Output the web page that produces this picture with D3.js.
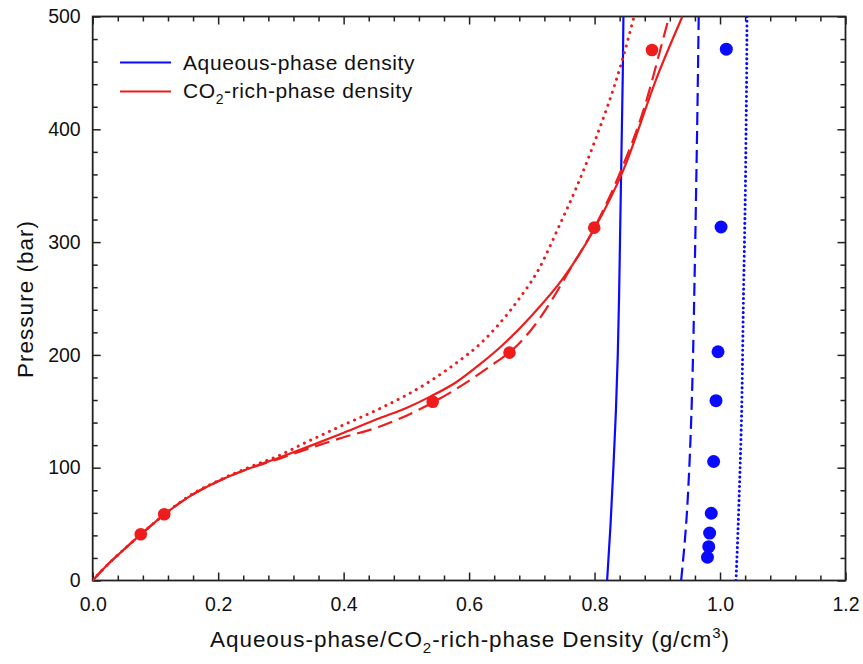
<!DOCTYPE html>
<html lang="en">
  <head>
    <meta charset="UTF-8" />
    <title>Aqueous-phase / CO2-rich-phase density vs pressure</title>
    <script src="https://d3js.org/d3.v7.min.js"></script>
    <style>
      body {
        margin: 0;
        background: #ffffff;
        font-family: 'Liberation Sans', Arial, sans-serif;
      }
      .axis text {
        font-family: 'Liberation Sans', Arial, sans-serif;
        font-size: 19.5px;
        fill: #111;
      }
      .axis line {
        stroke: #222;
        stroke-width: 1.5px;
      }
      .axis path {
        display: none;
      }
    </style>
  </head>
  <body>
    <div id="chart"></div>

    <script>
      // ---- data (density g/cm3, pressure bar) ----
      const xTicks = [0, 0.2, 0.4, 0.6, 0.8, 1.0, 1.2];
      const yTicks = [0, 100, 200, 300, 400, 500];

      // CO2-rich phase, model curves
      const co2Solid = [
        [0, 0], [0.02, 12], [0.04, 22.5], [0.077, 41], [0.114, 58.5],
        [0.15, 73], [0.2, 88], [0.25, 99.5], [0.3, 109.5], [0.35, 120],
        [0.4, 131], [0.458, 144], [0.5, 153], [0.538, 163], [0.58, 176],
        [0.618, 192], [0.65, 207], [0.7, 235], [0.75, 268], [0.8, 312],
        [0.846, 364], [0.9, 447], [0.94, 500],
      ];
      const co2Dashed = [
        [0, 0], [0.02, 12], [0.04, 22.5], [0.077, 41], [0.114, 58.5],
        [0.15, 73], [0.2, 88], [0.25, 99.3], [0.3, 108.5], [0.331, 114.5],
        [0.4, 127], [0.458, 136.5], [0.522, 152], [0.58, 170], [0.644, 194],
        [0.664, 202], [0.7, 223], [0.73, 247], [0.761, 276], [0.8, 313],
        [0.841, 362], [0.878, 417], [0.918, 498], [0.919, 500],
      ];
      const co2Dotted = [
        [0, 0], [0.02, 12], [0.04, 22.5], [0.077, 41], [0.114, 58.5],
        [0.15, 73.5], [0.2, 88.5], [0.25, 100.5], [0.3, 111.5], [0.331, 120],
        [0.4, 138], [0.46, 153], [0.533, 175], [0.58, 193], [0.618, 210],
        [0.644, 225], [0.68, 250], [0.708, 273], [0.745, 316], [0.77, 347],
        [0.798, 386], [0.844, 461], [0.863, 500],
      ];

      // aqueous phase, model curves
      const aqSolid = [
        [0.82, 0], [0.8255, 50], [0.83, 100], [0.834, 150], [0.837, 200],
        [0.839, 250], [0.8405, 300], [0.842, 350], [0.8435, 400],
        [0.845, 450], [0.846, 500],
      ];
      const aqDashed = [
        [0.938, 0], [0.946, 50], [0.951, 100], [0.9545, 150], [0.957, 200],
        [0.9588, 250], [0.9605, 300], [0.962, 350], [0.9635, 400],
        [0.9648, 450], [0.966, 500],
      ];
      const aqDotted = [
        [1.0255, 0], [1.029, 50], [1.032, 100], [1.0345, 150], [1.036, 200],
        [1.0373, 250], [1.039, 300], [1.0405, 350], [1.0415, 400],
        [1.0425, 450], [1.043, 500],
      ];

      // measured points
      const co2Points = [
        [0.0766, 41], [0.114, 58.7], [0.542, 158.5], [0.6644, 202],
        [0.7995, 312.8], [0.8915, 470.3],
      ];
      const aqPoints = [
        [0.98, 20.6], [0.982, 30], [0.9834, 42], [0.986, 59.6],
        [0.9898, 105.5], [0.9936, 159.4], [0.9968, 202.8],
        [1.0016, 313.4], [1.01, 471],
      ];

      const blue = '#0a0aff';
      const red = '#ee1c1c';

      const W = 863,
        H = 664;
      const svg = d3
        .select('#chart')
        .append('svg')
        .attr('width', W)
        .attr('height', H);

      const x = d3.scaleLinear().domain([0, 1.2]).range([92.7, 845.5]);
      const y = d3.scaleLinear().domain([0, 500]).range([580.5, 16.5]);

      svg
        .append('clipPath')
        .attr('id', 'plot')
        .append('rect')
        .attr('x', x(0))
        .attr('y', y(500))
        .attr('width', x(1.2) - x(0))
        .attr('height', y(0) - y(500));

      // minor ticks
      const xMinor = d3.range(0, 1.2001, 0.04).filter(
        (v) => Math.abs(v * 5 - Math.round(v * 5)) > 1e-6,
      );
      const yMinor = d3.range(0, 500.1, 20).filter((v) => v % 100 !== 0);

      function addAxis(axisFn, scale, vals, size, tr, labels) {
        const a = axisFn(scale)
          .tickValues(vals)
          .tickSizeInner(-size)
          .tickSizeOuter(0);
        if (!labels) a.tickFormat('');
        return svg
          .append('g')
          .attr('class', 'axis')
          .attr('transform', tr)
          .call(a);
      }

      const bottomT = `translate(0,${y(0)})`;
      const topT = `translate(0,${y(500)})`;
      const leftT = `translate(${x(0)},0)`;
      const rightT = `translate(${x(1.2)},0)`;

      // labelled major ticks
      addAxis(d3.axisBottom, x, xTicks, 8, bottomT, true)
        .selectAll('text')
        .text((d) => d3.format('.1f')(d))
        .attr('y', 16.7);
      addAxis(d3.axisLeft, y, yTicks, 8, leftT, true)
        .selectAll('text')
        .attr('x', -12);

      // unlabelled ticks (minor + mirrored)
      addAxis(d3.axisBottom, x, xMinor, 5, bottomT, false);
      addAxis(d3.axisTop, x, xTicks, 8, topT, false);
      addAxis(d3.axisTop, x, xMinor, 5, topT, false);
      addAxis(d3.axisLeft, y, yMinor, 5, leftT, false);
      addAxis(d3.axisRight, y, yTicks, 8, rightT, false);
      addAxis(d3.axisRight, y, yMinor, 5, rightT, false);

      // frame
      svg
        .append('rect')
        .attr('x', x(0))
        .attr('y', y(500))
        .attr('width', x(1.2) - x(0))
        .attr('height', y(0) - y(500))
        .attr('fill', 'none')
        .attr('stroke', '#222')
        .attr('stroke-width', 1.8);

      const plot = svg.append('g').attr('clip-path', 'url(#plot)');

      const lineX = d3
        .line()
        .x((d) => x(d[0]))
        .y((d) => y(d[1]))
        .curve(d3.curveMonotoneX);
      const lineY = d3
        .line()
        .x((d) => x(d[0]))
        .y((d) => y(d[1]))
        .curve(d3.curveMonotoneY);

      const curves = [
        { data: aqSolid, gen: lineY, color: blue, dash: null },
        { data: aqDashed, gen: lineY, color: blue, dash: '13,6' },
        { data: aqDotted, gen: lineY, color: blue, dash: '0.1,4.6' },
        { data: co2Solid, gen: lineX, color: red, dash: null },
        { data: co2Dashed, gen: lineX, color: red, dash: '15,7' },
        { data: co2Dotted, gen: lineX, color: red, dash: '0.1,6.8' },
      ];

      curves.forEach((c) => {
        const dotted = c.dash && c.dash.startsWith('0.1');
        plot
          .append('path')
          .attr('d', c.gen(c.data))
          .attr('fill', 'none')
          .attr('stroke', c.color)
          .attr('stroke-width', dotted ? 3 : 2.2)
          .attr('stroke-linecap', dotted ? 'round' : 'butt')
          .attr('stroke-dasharray', c.dash);
      });

      plot
        .selectAll('circle.co2')
        .data(co2Points)
        .join('circle')
        .attr('class', 'co2')
        .attr('cx', (d) => x(d[0]))
        .attr('cy', (d) => y(d[1]))
        .attr('r', 6.3)
        .attr('fill', red);

      plot
        .selectAll('circle.aq')
        .data(aqPoints)
        .join('circle')
        .attr('class', 'aq')
        .attr('cx', (d) => x(d[0]))
        .attr('cy', (d) => y(d[1]))
        .attr('r', 6.5)
        .attr('fill', blue);

      // legend
      const legend = svg
        .append('g')
        .style('font-size', '21px')
        .style('letter-spacing', '0.6px');
      legend
        .append('line')
        .attr('x1', 120)
        .attr('x2', 171)
        .attr('y1', 62.5)
        .attr('y2', 62.5)
        .attr('stroke', blue)
        .attr('stroke-width', 2.2);
      legend
        .append('text')
        .attr('x', 183)
        .attr('y', 70)
        .attr('fill', '#111')
        .text('Aqueous-phase density');
      legend
        .append('line')
        .attr('x1', 120)
        .attr('x2', 171)
        .attr('y1', 91.5)
        .attr('y2', 91.5)
        .attr('stroke', red)
        .attr('stroke-width', 2.2);
      const t2 = legend
        .append('text')
        .attr('x', 183)
        .attr('y', 98)
        .attr('fill', '#111');
      t2.append('tspan').text('CO');
      t2.append('tspan')
        .attr('dy', 6)
        .style('font-size', '14px')
        .text('2');
      t2.append('tspan').attr('dy', -6).text('-rich-phase density');

      // axis titles
      const xt = svg
        .append('text')
        .attr('x', 470)
        .attr('y', 647)
        .attr('text-anchor', 'middle')
        .style('font-size', '22.5px')
        .style('letter-spacing', '0.95px')
        .attr('fill', '#111');
      xt.append('tspan').text('Aqueous-phase/CO');
      xt.append('tspan')
        .attr('dy', 6)
        .style('font-size', '15px')
        .text('2');
      xt.append('tspan').attr('dy', -6).text('-rich-phase Density (g/cm');
      xt.append('tspan')
        .attr('dy', -9)
        .style('font-size', '15px')
        .text('3');
      xt.append('tspan').attr('dy', 9).text(')');

      svg
        .append('text')
        .attr('transform', 'translate(33,299) rotate(-90)')
        .attr('text-anchor', 'middle')
        .style('font-size', '22.5px')
        .style('letter-spacing', '1px')
        .attr('fill', '#111')
        .text('Pressure (bar)');
    </script>
  </body>
</html>
